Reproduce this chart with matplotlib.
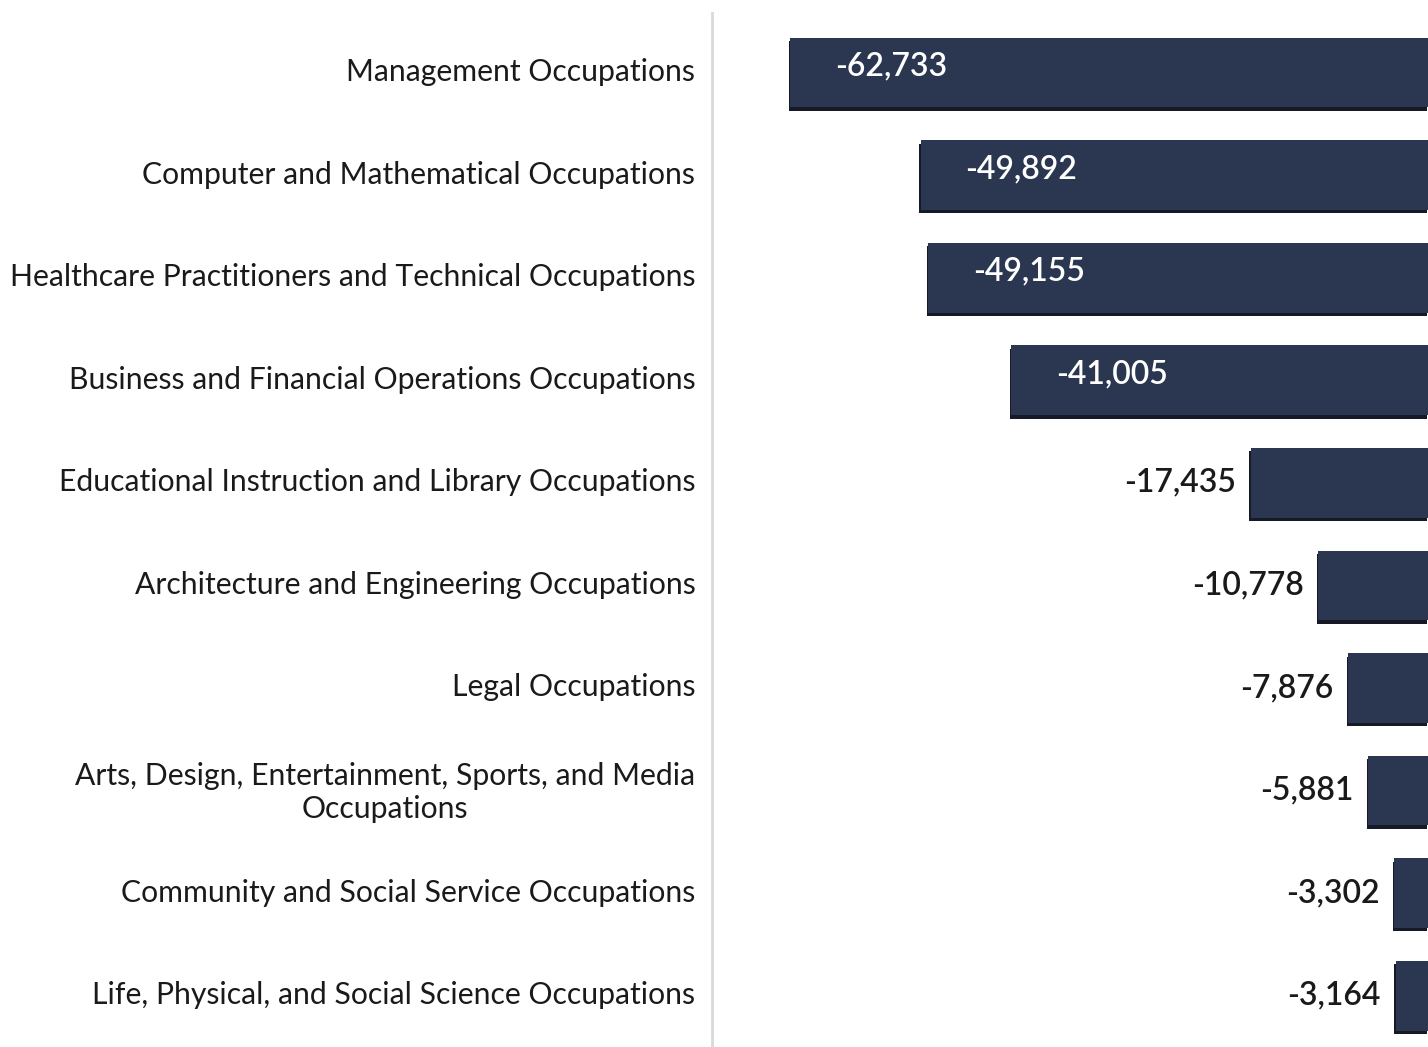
import matplotlib
matplotlib.use("Agg")
import matplotlib.pyplot as plt
import matplotlib.patheffects as pe

occupations = [
    "Management Occupations",
    "Computer and Mathematical Occupations",
    "Healthcare Practitioners and Technical Occupations",
    "Business and Financial Operations Occupations",
    "Educational Instruction and Library Occupations",
    "Architecture and Engineering Occupations",
    "Legal Occupations",
    "Arts, Design, Entertainment, Sports, and Media\nOccupations",
    "Community and Social Service Occupations",
    "Life, Physical, and Social Science Occupations",
]
change = [-62733, -49892, -49155, -41005, -17435, -10778, -7876, -5881, -3302, -3164]

bar_color = "#2b3650"
plt.rcParams['font.family'] = ['Lato', 'DejaVu Sans']

W, H = 1428, 1047
fig = plt.figure(figsize=(W / 100, H / 100), dpi=100)
# axes box in pixel coords: left 712, right 1428, top 13, bottom 1047
ax = fig.add_axes([712 / W, 0, (1428 - 712) / W, (1047 - 13) / H])

y = list(range(len(change)))
bars = ax.barh(y, change, height=0.68, color=bar_color, zorder=2)
for b in bars:
    b.set_path_effects([pe.SimplePatchShadow(offset=(-1, -2.5), shadow_rgbFace="#151a26", alpha=1.0),
                        pe.Normal()])

ax.set_xlim(-70400, 0)
ax.set_ylim(len(change) - 0.5, -0.58)

for s in ["top", "right", "bottom"]:
    ax.spines[s].set_visible(False)
ax.spines["left"].set_color("#d9d9d9")
ax.spines["left"].set_linewidth(2)
ax.set_xticks([])
ax.set_yticks(y)
ax.set_yticklabels(occupations, fontsize=21.7, color="#1a1a1a", multialignment="center")
ax.tick_params(axis="y", length=0, pad=12)
for lab in ax.get_yticklabels():
    lab.set_y(lab.get_position()[1])
    lab.set_transform(lab.get_transform() + matplotlib.transforms.ScaledTranslation(0, 3 / 100, fig.dpi_scale_trans))

for i, v in enumerate(change):
    txt = f"{v:,}"
    if v < -30000:
        ax.annotate(txt, (v, i), xytext=(45, 6), textcoords="offset pixels",
                    ha="left", va="center", color="white", fontsize=23, fontweight="semibold")
    else:
        ax.annotate(txt, (v, i), xytext=(-15, 0), textcoords="offset pixels",
                    ha="right", va="center", color="#1a1a1a", fontsize=23, fontweight="semibold")

fig.savefig("out.png", dpi=100)
